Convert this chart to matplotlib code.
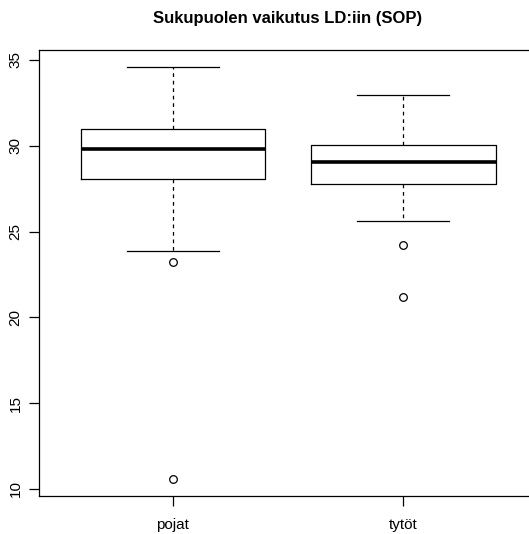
import matplotlib
matplotlib.use("Agg")
import matplotlib.pyplot as plt

categories = ["pojat", "tytöt"]
whislo = [23.84, 25.61]
q1 = [28.04, 27.77]
med = [29.80, 29.03]
q3 = [30.96, 30.02]
whishi = [34.60, 32.94]
fliers = [[23.2, 10.58], [24.23, 21.2]]
yticks = [10, 15, 20, 25, 30, 35]
title = "Sukupuolen vaikutus LD:iin (SOP)"

plt.rcParams['font.family'] = ['Liberation Sans', 'DejaVu Sans']

fig = plt.figure(figsize=(5.29, 5.34), dpi=100)
ax = fig.add_axes([39.3/529, 1-495.5/534, (537-39.3)/529, (495.5-50.3)/534])

stats = []
for i in range(len(categories)):
    stats.append(dict(label=categories[i], whislo=whislo[i], q1=q1[i], med=med[i],
                      q3=q3[i], whishi=whishi[i], fliers=fliers[i]))

ax.bxp(stats, positions=[1, 2], widths=0.8, showfliers=True,
       boxprops=dict(color='black', linewidth=0.9),
       medianprops=dict(color='black', linewidth=2.6, solid_capstyle='butt'),
       whiskerprops=dict(color='black', linewidth=0.9, linestyle=(0, (3, 3))),
       capprops=dict(color='black', linewidth=0.9),
       capwidths=0.4,
       flierprops=dict(marker='o', markerfacecolor='none', markeredgecolor='black',
                       markersize=5.5, markeredgewidth=0.9))

ax.set_xlim(0.42, 2.58)
ax.set_ylim(9.62, 35.56)
ax.set_yticks(yticks)
ax.set_yticklabels([str(t) for t in yticks], rotation=90, va='center', fontsize=11)
ax.set_xticks([1, 2])
ax.set_xticklabels(categories, fontsize=11)
ax.tick_params(axis='both', length=7, width=0.9, direction='out')
ax.tick_params(axis='x', pad=9)
ax.tick_params(axis='y', pad=5)
for s in ax.spines.values():
    s.set_linewidth(0.9)
    s.set_color('black')
fig.text(288/529, 1-18/534, title, ha='center', va='center', fontsize=12, fontweight='bold')

fig.savefig("out.png", dpi=100)
